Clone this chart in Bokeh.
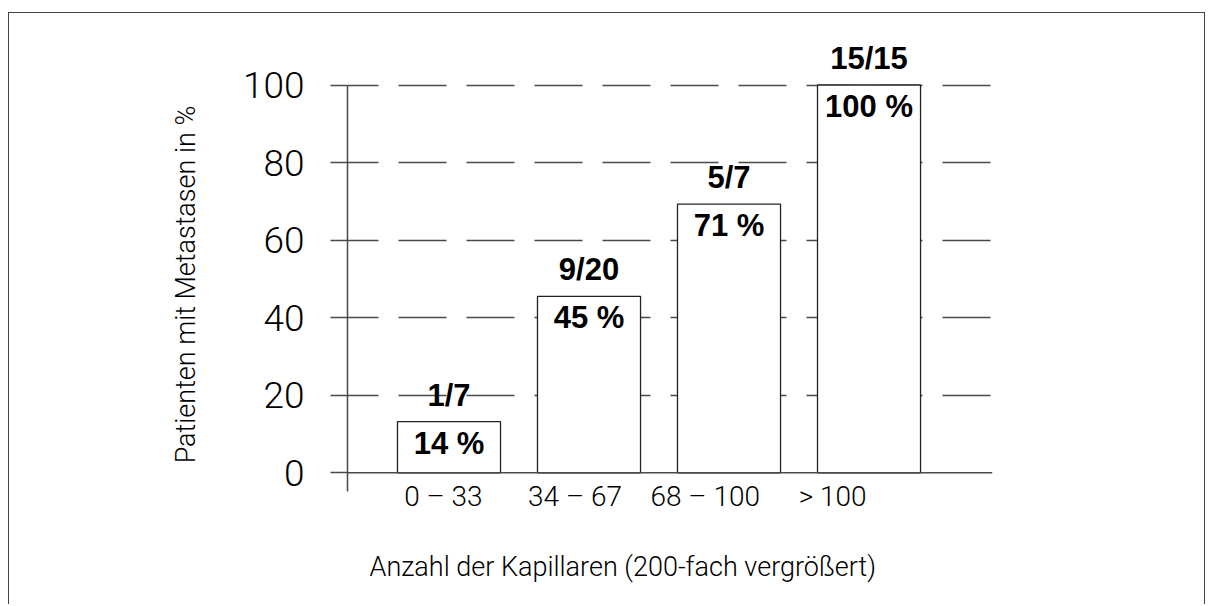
from bokeh.plotting import figure
from bokeh.models import Range1d, FixedTicker, Span, LabelSet, ColumnDataSource, Title
from bokeh.embed import file_html
from bokeh.resources import INLINE
from bokeh.core.properties import value

# ---- data ----
categories = ["0 – 33", "34 – 67", "68 – 100", "> 100"]
bar_values = [13.2, 45.5, 69.3, 100]
percent_labels = ["14 %", "45 %", "71 %", "100 %"]
count_labels = ["1/7", "9/20", "5/7", "15/15"]
y_ticks = [0, 20, 40, 60, 80, 100]
grid_ticks = [20, 40, 60, 80, 100]
x_title = "Anzahl der Kapillaren (200-fach vergrößert)"
y_title = "Patienten mit Metastasen in %"

# layout: where the category labels sit (they drift left of the bars in the original)
label_shift = [-0.04, -0.10, -0.17, -0.26]

xs = list(range(len(categories)))
src = ColumnDataSource(dict(x=xs, top=bar_values, pct=percent_labels, cnt=count_labels))

LIGHT = "Roboto Light"
BOLD = "Liberation Sans"
LINE = "#4a4a4a"

Y0, Y1 = -14.9, 112
AXIS_BOTTOM = -4.8
p = figure(width=1197, height=592, output_backend="svg", toolbar_location=None,
           x_range=Range1d(-0.725, 3.882), y_range=Range1d(Y0, Y1),
           min_border_left=338, min_border_right=214, min_border_top=25,
           min_border_bottom=75)
p.outline_line_color = None
p.background_fill_color = "white"
p.border_fill_color = "white"
p.styles = {"border-left": "1px solid #444", "border-top": "1px solid #444",
            "border-right": "1px solid #444", "margin-top": "12px",
            "margin-left": "8px"}

# grid
p.xgrid.visible = False
p.ygrid.ticker = FixedTicker(ticks=grid_ticks)
p.ygrid.grid_line_color = LINE
p.ygrid.grid_line_width = 1.3
p.ygrid.grid_line_dash = "48 20"
p.ygrid.grid_line_dash_offset = 17

# zero line
p.add_layout(Span(location=0, dimension="width", line_color=LINE, line_width=1.5))

# bars
p.vbar(x="x", top="top", bottom=0, width=0.736, fill_color="white",
       line_color="#222222", line_width=1.3, source=src)

# labels
p.add_layout(LabelSet(x="x", y="top", text="pct", source=src, text_align="center",
                      text_baseline="alphabetic", y_offset=-32,
                      text_font=value(BOLD), text_font_style="bold",
                      text_font_size="31px", text_color="black"))
p.add_layout(LabelSet(x="x", y="top", text="cnt", source=src, text_align="center",
                      text_baseline="alphabetic", y_offset=16,
                      text_font=value(BOLD), text_font_style="bold",
                      text_font_size="31px", text_color="black"))

# y axis
yax = p.yaxis[0]
yax.ticker = FixedTicker(ticks=y_ticks)
yax.bounds = (AXIS_BOTTOM, y_ticks[-1])
yax.major_tick_out = 17
yax.major_tick_in = 0
yax.minor_tick_line_color = None
yax.major_tick_line_color = LINE
yax.major_tick_line_width = 1.3
yax.axis_line_color = LINE
yax.axis_line_width = 1.5
yax.major_label_standoff = 26
yax.major_label_text_font = LIGHT
yax.major_label_text_font_size = "37px"
yax.major_label_text_color = "black"
yax.axis_label = y_title
yax.axis_label_text_font = LIGHT
yax.axis_label_text_font_style = "normal"
yax.axis_label_text_font_size = "27px"
yax.axis_label_text_color = "black"
yax.axis_label_standoff = 38

# x axis title (placed next to the frame, left-aligned like the original)
TITLE_STANDOFF = 40
xtitle = Title(text=x_title, align="left", offset=22, vertical_align="top",
               text_font=LIGHT, text_font_style="normal", text_font_size="27px",
               text_color="black", standoff=TITLE_STANDOFF)

# x axis (tick labels only)
tick_pos = [i + s for i, s in zip(xs, label_shift)]
xax = p.xaxis[0]
xax.ticker = FixedTicker(ticks=tick_pos)
xax.major_label_overrides = {t: c for t, c in zip(tick_pos, categories)}
xax.axis_line_color = None
xax.major_tick_line_color = None
xax.minor_tick_line_color = None
xax.major_tick_out = 0
xax.major_label_standoff = -51 - (2 + 32 + TITLE_STANDOFF)
xax.major_label_text_font = LIGHT
xax.major_label_text_font_size = "28px"
xax.major_label_text_color = "black"

p.below = [xtitle, xax]

open("out.html", "w").write(file_html(p, INLINE))
